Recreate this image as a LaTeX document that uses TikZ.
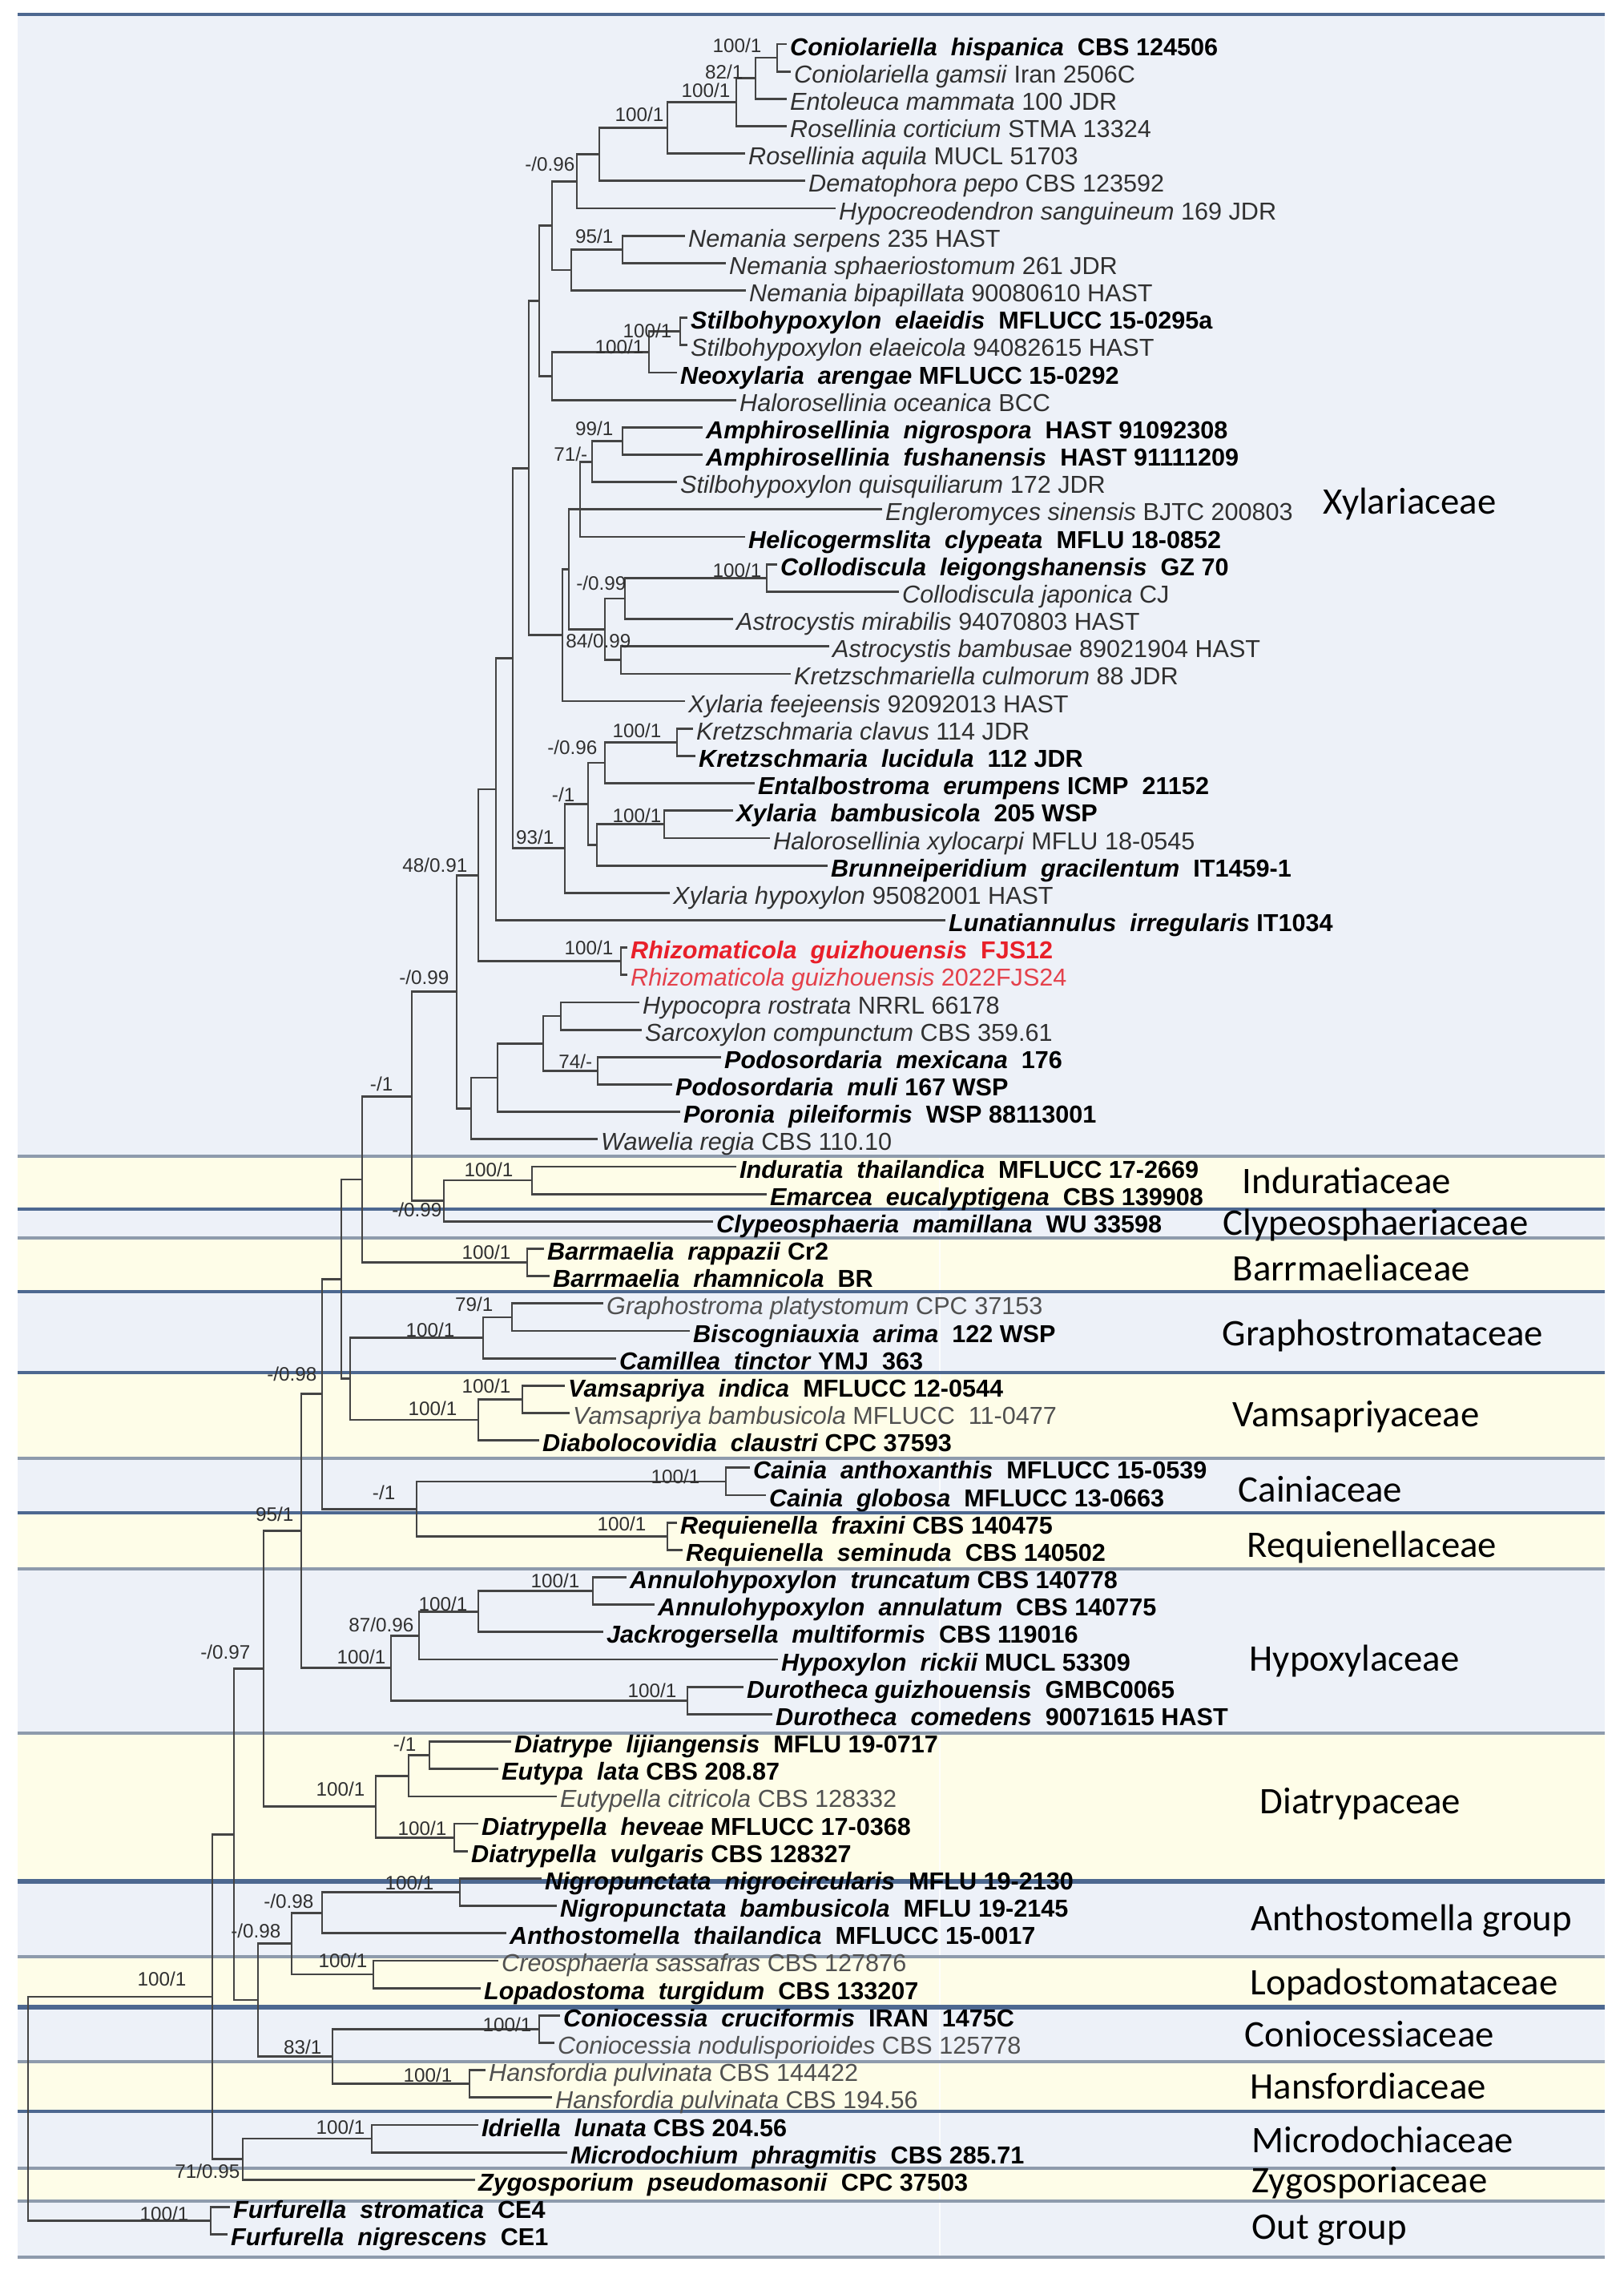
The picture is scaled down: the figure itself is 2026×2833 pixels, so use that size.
\documentclass[tikz,border=0pt]{standalone}
\usepackage{fontspec}
\setmainfont{Liberation Sans}
\newfontfamily\famfont{Carlito}
\usetikzlibrary{calc}
\definecolor{bandblue}{HTML}{EDF1F8}
\definecolor{bandyellow}{HTML}{FEFDE8}
\definecolor{linedark}{HTML}{4D6890}
\definecolor{linegray}{HTML}{8E9BAC}
\definecolor{branchcol}{HTML}{444444}
\definecolor{txtgray}{HTML}{303030}
\definecolor{lightgray}{HTML}{505050}
\definecolor{redA}{HTML}{E8202A}
\definecolor{redB}{HTML}{E4414B}
\newcommand\tip[4][taxon]{\node[#1] (t#2) at (#3,{55+(#2-1)*34.17}) {#4};}
\newcommand\inode[4]{\path let \p1=(#3), \p2=(#4) in coordinate (#1) at ({#2*0.01cm},{0.5*(\y1+\y2)});
  \draw[br] (#1) |- (#3); \draw[br] (#1) |- (#4);}
\newcommand\sv[4]{\node[sup] (#1) at (#2,#3) {#4};}
\newcommand\bandfill[3]{\fill[#1] (22,#2) rectangle (2003,#3);}
\newcommand\bandline[3]{\draw[#1, line width=#3] (22,#2) -- (2003,#2);}
\begin{document}
\begin{tikzpicture}[x=0.01cm,y=-0.01cm,
  taxon/.style={anchor=west, inner xsep=1pt, inner ysep=0pt, text height=8pt, text depth=0pt, font=\fontsize{8.7}{10}\selectfont, text=txtgray},
  btaxon/.style={taxon, font=\fontsize{8.7}{10}\selectfont\bfseries, text=black},
  gtaxon/.style={taxon, text=lightgray},
  rtaxon/.style={btaxon, text=redA},
  rrtaxon/.style={taxon, text=redB},
  sup/.style={anchor=east, inner sep=0pt, text height=4.9pt, text depth=0pt, font=\fontsize{6.9}{8}\selectfont, text=txtgray},
  fam/.style={anchor=west, inner sep=0pt, text height=8.6pt, text depth=0pt, font=\famfont\fontsize{13.3}{15}\selectfont, text=black},
  br/.style={draw=branchcol, line width=0.8pt}]
\useasboundingbox (0,0) rectangle (2026,2833);
\fill[white] (0,0) rectangle (2026,2833);
% bands
\bandfill{bandblue}{18}{1443}
\bandfill{bandyellow}{1443}{1509}
\bandfill{bandblue}{1509}{1545}
\bandfill{bandyellow}{1545}{1612}
\bandfill{bandblue}{1612}{1713}
\bandfill{bandyellow}{1713}{1820}
\bandfill{bandblue}{1820}{1888}
\bandfill{bandyellow}{1888}{1958}
\bandfill{bandblue}{1958}{2163}
\bandfill{bandyellow}{2163}{2348}
\bandfill{bandblue}{2348}{2442}
\bandfill{bandyellow}{2442}{2505}
\bandfill{bandblue}{2505}{2573}
\bandfill{bandyellow}{2573}{2635}
\bandfill{bandblue}{2635}{2706}
\bandfill{bandyellow}{2706}{2747}
\bandfill{bandblue}{2747}{2817}
\draw[white, line width=0.6pt, opacity=0.8] (1173,1443) -- (1173,2817);
\bandline{linedark}{18}{1.1pt}
\bandline{linegray}{1443}{1.1pt}
\bandline{linedark}{1509}{1.1pt}
\bandline{linegray}{1545}{1.1pt}
\bandline{linedark}{1612}{1.1pt}
\bandline{linedark}{1713}{1.1pt}
\bandline{linegray}{1820}{1.1pt}
\bandline{linedark}{1888}{1.1pt}
\bandline{linegray}{1958}{1.1pt}
\bandline{linegray}{2163}{0.9pt}
\bandline{linedark}{2348}{1.6pt}
\bandline{linegray}{2442}{1.1pt}
\bandline{linedark}{2505}{1.6pt}
\bandline{linegray}{2573}{1.1pt}
\bandline{linedark}{2635}{1.1pt}
\bandline{linegray}{2706}{1.1pt}
\bandline{linegray}{2747}{1.1pt}
\bandline{linegray}{2817}{1.1pt}
% taxa
\tip[btaxon]{1}{982}{\textit{Coniolariella\ \ hispanica}\ \ CBS 124506}
\tip{2}{987}{\textit{Coniolariella gamsii} Iran 2506C}
\tip{3}{982}{\textit{Entoleuca mammata} 100 JDR}
\tip{4}{982}{\textit{Rosellinia corticium} STMA 13324}
\tip{5}{930}{\textit{Rosellinia aquila} MUCL 51703}
\tip{6}{1005}{\textit{Dematophora pepo} CBS 123592}
\tip{7}{1043}{\textit{Hypocreodendron sanguineum} 169 JDR}
\tip{8}{855}{\textit{Nemania serpens} 235 HAST}
\tip{9}{906}{\textit{Nemania sphaeriostomum} 261 JDR}
\tip{10}{931}{\textit{Nemania bipapillata} 90080610 HAST}
\tip[btaxon]{11}{858}{\textit{Stilbohypoxylon\ \ elaeidis}\ \ MFLUCC 15-0295a}
\tip{12}{858}{\textit{Stilbohypoxylon elaeicola} 94082615 HAST}
\tip[btaxon]{13}{845}{\textit{Neoxylaria\ \ arengae} MFLUCC 15-0292}
\tip{14}{919}{\textit{Halorosellinia oceanica} BCC}
\tip[btaxon]{15}{877}{\textit{Amphirosellinia\ \ nigrospora}\ \ HAST 91092308}
\tip[btaxon]{16}{877}{\textit{Amphirosellinia\ \ fushanensis}\ \ HAST 91111209}
\tip{17}{845}{\textit{Stilbohypoxylon quisquiliarum} 172 JDR}
\tip{18}{1101}{\textit{Engleromyces sinensis} BJTC 200803}
\tip[btaxon]{19}{930}{\textit{Helicogermslita\ \ clypeata}\ \ MFLU 18-0852}
\tip[btaxon]{20}{970}{\textit{Collodiscula\ \ leigongshanensis}\ \ GZ 70}
\tip{21}{1122}{\textit{Collodiscula japonica} CJ}
\tip{22}{915}{\textit{Astrocystis mirabilis} 94070803 HAST}
\tip{23}{1035}{\textit{Astrocystis bambusae} 89021904 HAST}
\tip{24}{987}{\textit{Kretzschmariella culmorum} 88 JDR}
\tip{25}{855}{\textit{Xylaria feejeensis} 92092013 HAST}
\tip{26}{865}{\textit{Kretzschmaria clavus} 114 JDR}
\tip[btaxon]{27}{868}{\textit{Kretzschmaria\ \ lucidula}\ \ 112 JDR}
\tip[btaxon]{28}{942}{\textit{Entalbostroma\ \ erumpens} ICMP\ \ 21152}
\tip[btaxon]{29}{915}{\textit{Xylaria\ \ bambusicola}\ \ 205 WSP}
\tip{30}{961}{\textit{Halorosellinia xylocarpi} MFLU 18-0545}
\tip[btaxon]{31}{1033}{\textit{Brunneiperidium\ \ gracilentum}\ \ IT1459-1}
\tip{32}{836}{\textit{Xylaria hypoxylon} 95082001 HAST}
\tip[btaxon]{33}{1180}{\textit{Lunatiannulus\ \ irregularis} IT1034}
\tip[rtaxon]{34}{783}{\textit{Rhizomaticola\ \ guizhouensis}\ \ FJS12}
\tip[rrtaxon]{35}{783}{\textit{Rhizomaticola guizhouensis} 2022FJS24}
\tip{36}{798}{\textit{Hypocopra rostrata} NRRL 66178}
\tip{37}{801}{\textit{Sarcoxylon compunctum} CBS 359.61}
\tip[btaxon]{38}{900}{\textit{Podosordaria\ \ mexicana}\ \ 176}
\tip[btaxon]{39}{839}{\textit{Podosordaria\ \ muli} 167 WSP}
\tip[btaxon]{40}{849}{\textit{Poronia\ \ pileiformis}\ \ WSP 88113001}
\tip{41}{746}{\textit{Wawelia regia} CBS 110.10}
\tip[btaxon]{42}{919}{\textit{Induratia\ \ thailandica}\ \ MFLUCC 17-2669}
\tip[btaxon]{43}{957}{\textit{Emarcea\ \ eucalyptigena}\ \ CBS 139908}
\tip[btaxon]{44}{890}{\textit{Clypeosphaeria\ \ mamillana}\ \ WU 33598}
\tip[btaxon]{45}{679}{\textit{Barrmaelia\ \ rappazii} Cr2}
\tip[btaxon]{46}{686}{\textit{Barrmaelia\ \ rhamnicola}\ \ BR}
\tip[gtaxon]{47}{753}{\textit{Graphostroma platystomum} CPC 37153}
\tip[btaxon]{48}{861}{\textit{Biscogniauxia\ \ arima}\ \ 122 WSP}
\tip[btaxon]{49}{769}{\textit{Camillea\ \ tinctor} YMJ\ \ 363}
\tip[btaxon]{50}{705}{\textit{Vamsapriya\ \ indica}\ \ MFLUCC 12-0544}
\tip[gtaxon]{51}{711}{\textit{Vamsapriya bambusicola} MFLUCC\ \ 11-0477}
\tip[btaxon]{52}{673}{\textit{Diabolocovidia\ \ claustri} CPC 37593}
\tip[btaxon]{53}{936}{\textit{Cainia\ \ anthoxanthis}\ \ MFLUCC 15-0539}
\tip[btaxon]{54}{956}{\textit{Cainia\ \ globosa}\ \ MFLUCC 13-0663}
\tip[btaxon]{55}{845}{\textit{Requienella\ \ fraxini} CBS 140475}
\tip[btaxon]{56}{852}{\textit{Requienella\ \ seminuda}\ \ CBS 140502}
\tip[btaxon]{57}{782}{\textit{Annulohypoxylon\ \ truncatum} CBS 140778}
\tip[btaxon]{58}{817}{\textit{Annulohypoxylon\ \ annulatum}\ \ CBS 140775}
\tip[btaxon]{59}{753}{\textit{Jackrogersella\ \ multiformis}\ \ CBS 119016}
\tip[btaxon]{60}{971}{\textit{Hypoxylon\ \ rickii} MUCL 53309}
\tip[btaxon]{61}{928}{\textit{Durotheca guizhouensis}\ \ GMBC0065}
\tip[btaxon]{62}{964}{\textit{Durotheca\ \ comedens}\ \ 90071615 HAST}
\tip[btaxon]{63}{638}{\textit{Diatrype\ \ lijiangensis}\ \ MFLU 19-0717}
\tip[btaxon]{64}{622}{\textit{Eutypa\ \ lata} CBS 208.87}
\tip[gtaxon]{65}{695}{\textit{Eutypella citricola} CBS 128332}
\tip[btaxon]{66}{597}{\textit{Diatrypella\ \ heveae} MFLUCC 17-0368}
\tip[btaxon]{67}{584}{\textit{Diatrypella\ \ vulgaris} CBS 128327}
\tip[btaxon]{68}{676}{\textit{Nigropunctata\ \ nigrocircularis}\ \ MFLU 19-2130}
\tip[btaxon]{69}{695}{\textit{Nigropunctata\ \ bambusicola}\ \ MFLU 19-2145}
\tip[btaxon]{70}{632}{\textit{Anthostomella\ \ thailandica}\ \ MFLUCC 15-0017}
\tip[gtaxon]{71}{622}{\textit{Creosphaeria sassafras} CBS 127876}
\tip[btaxon]{72}{600}{\textit{Lopadostoma\ \ turgidum}\ \ CBS 133207}
\tip[btaxon]{73}{699}{\textit{Coniocessia\ \ cruciformis}\ \ IRAN\ \ 1475C}
\tip[gtaxon]{74}{692}{\textit{Coniocessia nodulisporioides} CBS 125778}
\tip[gtaxon]{75}{606}{\textit{Hansfordia pulvinata} CBS 144422}
\tip[gtaxon]{76}{689}{\textit{Hansfordia pulvinata} CBS 194.56}
\tip[btaxon]{77}{597}{\textit{Idriella\ \ lunata} CBS 204.56}
\tip[btaxon]{78}{708}{\textit{Microdochium\ \ phragmitis}\ \ CBS 285.71}
\tip[btaxon]{79}{593}{\textit{Zygosporium\ \ pseudomasonii}\ \ CPC 37503}
\tip[btaxon]{80}{287}{\textit{Furfurella\ \ stromatica}\ \ CE4}
\tip[btaxon]{81}{284}{\textit{Furfurella\ \ nigrescens}\ \ CE1}
% tree
\inode{nA}{970}{t1.west}{t2.west}
\inode{nB}{943}{nA}{t3.west}
\inode{nC}{919}{nB}{t4.west}
\inode{nD}{833}{nC}{t5.west}
\inode{nE}{748}{nD}{t6.west}
\inode{nF}{720}{nE}{t7.west}
\inode{nG}{777}{t8.west}{t9.west}
\inode{nH}{713}{nG}{t10.west}
\inode{nI}{689}{nF}{nH}
\inode{nJ}{849}{t11.west}{t12.west}
\inode{nK}{810}{nJ}{t13.west}
\inode{nL}{689}{nK}{t14.west}
\inode{nM}{673}{nI}{nL}
\inode{nO}{777}{t15.west}{t16.west}
\inode{nP}{739}{nO}{t17.west}
\path let \p1=(t18.west) in coordinate (nQ) at ({724*0.01cm},\y1);
\draw[br] (nQ) |- (nP); \draw[br] (nQ) -- (t18.west); \draw[br] (nQ) |- (t19.west);
\inode{nS}{957}{t20.west}{t21.west}
\inode{nT}{780}{nS}{t22.west}
\inode{nU}{775}{t23.west}{t24.west}
\inode{nV}{755}{nT}{nU}
\inode{nR}{710}{nQ}{nV}
\inode{nW}{702}{nR}{t25.west}
\inode{nN}{660}{nM}{nW}
\inode{nY}{845}{t26.west}{t27.west}
\inode{nZ}{755}{nY}{t28.west}
\inode{nAA}{829}{t29.west}{t30.west}
\inode{nAB}{745}{nAA}{t31.west}
\inode{nAC}{734}{nZ}{nAB}
\inode{nAD}{705}{nAC}{t32.west}
\inode{nX}{640}{nN}{nAD}
\inode{nAF}{619}{nX}{t33.west}
\inode{nAG}{775}{t34.west}{t35.west}
\inode{nAH}{597}{nAF}{nAG}
\inode{nAI}{700}{t36.west}{t37.west}
\inode{nAJ}{746}{t38.west}{t39.west}
\inode{nAK}{678}{nAI}{nAJ}
\inode{nAL}{621}{nAK}{t40.west}
\inode{nAM}{588}{nAL}{t41.west}
\inode{nAN}{570}{nAH}{nAM}
\inode{nAP}{664}{t42.west}{t43.west}
\inode{nAQ}{554}{nAP}{t44.west}
\inode{nAO}{514}{nAN}{nAQ}
\inode{nAS}{658}{t45.west}{t46.west}
\inode{nAR}{452}{nAO}{nAS}
\inode{nAV}{639}{t47.west}{t48.west}
\inode{nAW}{603}{nAV}{t49.west}
\inode{nAX}{652}{t50.west}{t51.west}
\inode{nAY}{597}{nAX}{t52.west}
\inode{nAU}{437}{nAW}{nAY}
\inode{nAT}{426}{nAR}{nAU}
\inode{nBB}{906}{t53.west}{t54.west}
\inode{nBC}{833}{t55.west}{t56.west}
\inode{nBA}{520}{nBB}{nBC}
\inode{nAZ}{402}{nAT}{nBA}
\inode{nBE}{740}{t57.west}{t58.west}
\inode{nBF}{597}{nBE}{t59.west}
\inode{nBG}{523}{nBF}{t60.west}
\inode{nBH}{858}{t61.west}{t62.west}
\inode{nBI}{488}{nBG}{nBH}
\inode{nBD}{376}{nAZ}{nBI}
\inode{nBK}{536}{t63.west}{t64.west}
\inode{nBL}{510}{nBK}{t65.west}
\inode{nBM}{567}{t66.west}{t67.west}
\inode{nBN}{469}{nBL}{nBM}
\inode{nBJ}{329}{nBD}{nBN}
\inode{nBQ}{574}{t68.west}{t69.west}
\inode{nBR}{402}{nBQ}{t70.west}
\inode{nBS}{466}{t71.west}{t72.west}
\inode{nBT}{364}{nBR}{nBS}
\inode{nBW}{673}{t73.west}{t74.west}
\inode{nBX}{586}{t75.west}{t76.west}
\inode{nBV}{415}{nBW}{nBX}
\inode{nBU}{322}{nBT}{nBV}
\inode{nBO}{292}{nBJ}{nBU}
\inode{nBY}{464}{t77.west}{t78.west}
\inode{nBZ}{303}{nBY}{t79.west}
\inode{nBP}{265}{nBO}{nBZ}
\inode{nCA}{263}{t80.west}{t81.west}
\inode{nRoot}{35}{nBP}{nCA}
% support values
\sv{sA}{951}{57}{100/1}
\sv{sB}{928}{90}{82/1}
\sv{sC}{912}{113}{100/1}
\sv{sD}{829}{143}{100/1}
\sv{sF}{718}{205}{-/0.96}
\sv{sG}{766}{295}{95/1}
\sv{sJ}{839}{413}{100/1}
\sv{sK}{804}{433}{100/1}
\sv{sO}{766}{535}{99/1}
\sv{sP}{734}{567}{71/-}
\sv{sS}{951}{712}{100/1}
\sv{sT}{782}{728}{-/0.99}
\sv{sU}{788}{800}{84/0.99}
\sv{sY}{826}{912}{100/1}
\sv{sZ}{746}{933}{-/0.96}
\sv{sAC}{718}{992}{-/1}
\sv{sAA}{826}{1018}{100/1}
\sv{sAD}{692}{1045}{93/1}
\sv{sAH}{584}{1080}{48/0.91}
\sv{sAG}{766}{1183}{100/1}
\sv{sAN}{561}{1220}{-/0.99}
\sv{sAJ}{740}{1325}{74/-}
\sv{sAO}{491}{1353}{-/1}
\sv{sAP}{641}{1460}{100/1}
\sv{sAQ}{552}{1510}{-/0.99}
\sv{sAS}{638}{1563}{100/1}
\sv{sAV}{616}{1628}{79/1}
\sv{sAW}{568}{1660}{100/1}
\sv{sAZ}{396}{1715}{-/0.98}
\sv{sAX}{638}{1730}{100/1}
\sv{sAY}{571}{1758}{100/1}
\sv{sBB}{874}{1843}{100/1}
\sv{sBA}{494}{1863}{-/1}
\sv{sBD}{367}{1890}{95/1}
\sv{sBC}{807}{1902}{100/1}
\sv{sBE}{724}{1973}{100/1}
\sv{sBF}{584}{2002}{100/1}
\sv{sBG}{517}{2028}{87/0.96}
\sv{sBJ}{313}{2062}{-/0.97}
\sv{sBI}{482}{2068}{100/1}
\sv{sBH}{845}{2110}{100/1}
\sv{sBK}{520}{2177}{-/1}
\sv{sBN}{456}{2233}{100/1}
\sv{sBM}{558}{2282}{100/1}
\sv{sBQ}{542}{2350}{100/1}
\sv{sBR}{392}{2373}{-/0.98}
\sv{sBT}{351}{2410}{-/0.98}
\sv{sBS}{459}{2447}{100/1}
\sv{sRoot}{233}{2470}{100/1}
\sv{sBW}{664}{2527}{100/1}
\sv{sBV}{402}{2555}{83/1}
\sv{sBX}{565}{2590}{100/1}
\sv{sBY}{456}{2655}{100/1}
\sv{sBZ}{300}{2710}{71/0.95}
\sv{sCA}{236}{2763}{100/1}
% family labels
\node[fam] (fXyl) at (1651,626) {Xylariaceae};
\node[fam] (fInd) at (1550,1474) {Induratiaceae};
\node[fam] (fCly) at (1526,1526) {Clypeosphaeriaceae};
\node[fam] (fBar) at (1538,1583) {Barrmaeliaceae};
\node[fam] (fGra) at (1525,1664) {Graphostromataceae};
\node[fam] (fVam) at (1538,1765) {Vamsapriyaceae};
\node[fam] (fCai) at (1545,1859) {Cainiaceae};
\node[fam] (fReq) at (1556,1928) {Requienellaceae};
\node[fam] (fHyp) at (1559,2070) {Hypoxylaceae};
\node[fam] (fDia) at (1572,2248) {Diatrypaceae};
\node[fam] (fAnt) at (1561,2394) {Anthostomella group};
\node[fam] (fLop) at (1560,2474) {Lopadostomataceae};
\node[fam] (fCon) at (1553,2539) {Coniocessiaceae};
\node[fam] (fHan) at (1560,2604) {Hansfordiaceae};
\node[fam] (fMic) at (1562,2671) {Microdochiaceae};
\node[fam] (fZyg) at (1562,2721) {Zygosporiaceae};
\node[fam] (fOut) at (1562,2779) {Out group};
\end{tikzpicture}
\end{document}
